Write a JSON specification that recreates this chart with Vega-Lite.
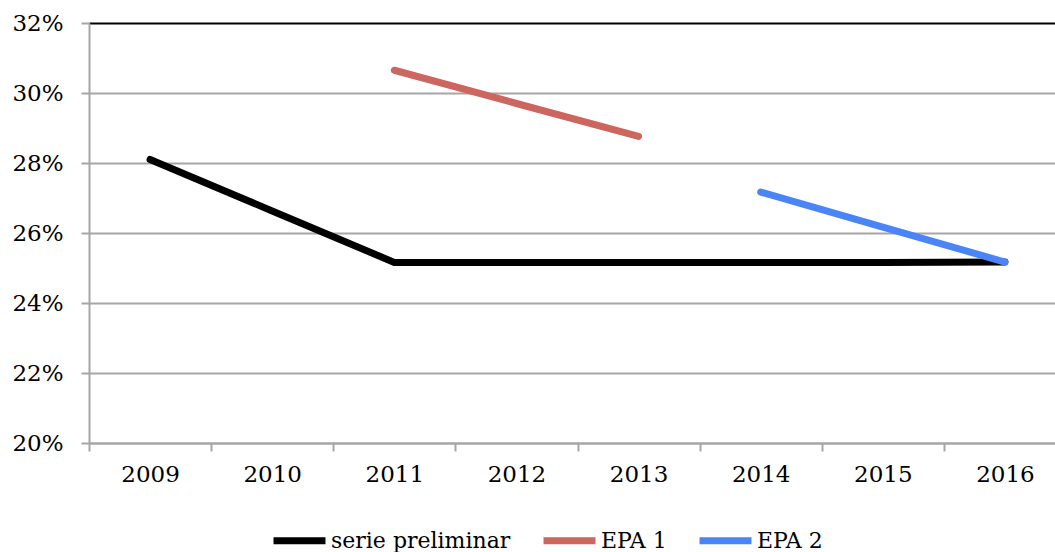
{
  "$schema": "https://vega.github.io/schema/vega-lite/v6.json",
  "autosize": {"type": "none"},
  "padding": {"left": 89, "top": 23, "right": 0, "bottom": 109},
  "width": 977,
  "height": 420,
  "background": "white",
  "config": {
    "view": {"stroke": null},
    "font": "DejaVu Serif"
  },
  "data": {
    "values": [
      {"year": "2009", "series": "serie preliminar", "value": 0.2810},
      {"year": "2010", "series": "serie preliminar", "value": 0.2663},
      {"year": "2011", "series": "serie preliminar", "value": 0.2516},
      {"year": "2012", "series": "serie preliminar", "value": 0.2516},
      {"year": "2013", "series": "serie preliminar", "value": 0.2516},
      {"year": "2014", "series": "serie preliminar", "value": 0.2516},
      {"year": "2015", "series": "serie preliminar", "value": 0.2516},
      {"year": "2016", "series": "serie preliminar", "value": 0.2517},
      {"year": "2011", "series": "EPA 1", "value": 0.3065},
      {"year": "2012", "series": "EPA 1", "value": 0.2970},
      {"year": "2013", "series": "EPA 1", "value": 0.2876},
      {"year": "2014", "series": "EPA 2", "value": 0.2717},
      {"year": "2015", "series": "EPA 2", "value": 0.2617},
      {"year": "2016", "series": "EPA 2", "value": 0.2517}
    ]
  },
  "mark": {"type": "line", "strokeWidth": 7, "strokeCap": "round", "strokeJoin": "miter"},
  "encoding": {
    "x": {
      "field": "year",
      "type": "ordinal",
      "scale": {"type": "band", "paddingInner": 0, "paddingOuter": 0},
      "axis": {
        "title": null,
        "labelAngle": 0,
        "labelFont": "DejaVu Serif",
        "labelFontSize": 23,
        "labelColor": "black",
        "labelPadding": 12,
        "tickBand": "extent",
        "tickSize": 8,
        "tickWidth": 2,
        "tickColor": "#a6a6a6",
        "domainColor": "#a6a6a6",
        "domainWidth": 2,
        "grid": false
      }
    },
    "y": {
      "field": "value",
      "type": "quantitative",
      "scale": {"domain": [0.2, 0.32], "nice": false, "zero": false},
      "axis": {
        "title": null,
        "values": [0.2, 0.22, 0.24, 0.26, 0.28, 0.3, 0.32],
        "format": ".0%",
        "labelFont": "DejaVu Serif",
        "labelFontSize": 23,
        "labelColor": "black",
        "labelPadding": 18,
        "tickSize": 8,
        "tickWidth": 2,
        "tickColor": "#a6a6a6",
        "domainColor": "#a6a6a6",
        "domainWidth": 2,
        "grid": true,
        "gridColor": {"condition": {"test": "datum.value >= 0.319", "value": "black"}, "value": "#a6a6a6"},
        "gridWidth": 2,
        "gridOpacity": 1
      }
    },
    "color": {
      "field": "series",
      "type": "nominal",
      "scale": {
        "domain": ["serie preliminar", "EPA 1", "EPA 2"],
        "range": ["#000000", "#cd665e", "#4a85f7"]
      },
      "legend": {
        "title": null,
        "orient": "none",
        "direction": "horizontal",
        "legendX": 181,
        "legendY": 488,
        "symbolType": "stroke",
        "symbolSize": 2700,
        "symbolStrokeWidth": 7,
        "labelFont": "DejaVu Serif",
        "labelFontSize": 22,
        "labelColor": "black",
        "labelLimit": 400,
        "labelOffset": 2,
        "columnPadding": 18
      }
    }
  }
}
